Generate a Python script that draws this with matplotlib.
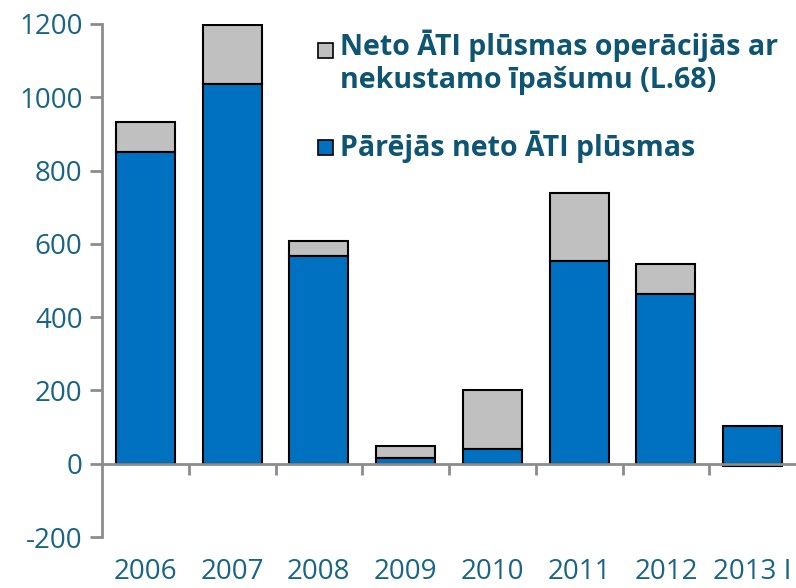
import numpy as np
import matplotlib
matplotlib.use('Agg')
from matplotlib import pyplot as plt
from matplotlib.patches import Rectangle

years = ['2006', '2007', '2008', '2009', '2010', '2011', '2012', '2013 I']
other_fdi = [850, 1036, 566, 16, 41, 552, 464, 104]
real_estate = [82, 160, 42, 33, 161, 186, 80, -6]

label_re = 'Neto ĀTI plūsmas operācijās ar\nnekustamo īpašumu (L.68)'
label_other = 'Pārējās neto ĀTI plūsmas'

blue = '#0070C0'
grey = '#C0C0C0'
txt = '#1A6585'
legtxt = '#0E5473'
axcol = '#8C8C8C'

plt.rcParams['font.family'] = ['Open Sans', 'DejaVu Sans']
plt.rcParams['axes.unicode_minus'] = False

fig = plt.figure(figsize=(7.96, 5.88), dpi=100)
ax = fig.add_axes([102/796, 1-537/588, 1-102/796, (537-24)/588])

x = np.arange(len(years))
re = np.array(real_estate)
oth = np.array(other_fdi)
# positive real estate part stacks on top, negative goes below zero
re_bottom = np.where(re >= 0, oth, 0)
ax.bar(x, oth, width=0.68, color=blue, edgecolor='black', linewidth=1.5, zorder=3)
ax.bar(x, re, bottom=re_bottom, width=0.68, color=grey, edgecolor='black', linewidth=1.5, zorder=2)

ax.set_xlim(-0.5, len(years) - 0.5)
ax.set_ylim(-200, 1200)
ax.set_yticks(np.arange(-200, 1201, 200))
ax.tick_params(axis='y', direction='out', length=9, width=2, color=axcol,
               labelsize=20, labelcolor=txt, pad=5)

ax.spines['top'].set_visible(False)
ax.spines['right'].set_visible(False)
ax.spines['left'].set_color(axcol)
ax.spines['left'].set_linewidth(2)
ax.spines['bottom'].set_position(('data', 0))
ax.spines['bottom'].set_color(axcol)
ax.spines['bottom'].set_linewidth(2)
ax.spines['bottom'].set_zorder(4)

ax.set_xticks(x)
ax.set_xticklabels(years)
ax.set_xticks(x[:-1] + 0.5, minor=True)
ax.tick_params(axis='x', which='major', length=0, labelsize=20, labelcolor=txt, pad=68)
ax.tick_params(axis='x', which='minor', direction='out', length=8, width=2, color=axcol)

# legend drawn by hand to match the layout
sq = 15 / 796
for ypix, lab, col in [(50, label_re, grey), (147, label_other, blue)]:
    fig.patches.append(Rectangle((318/796, 1-(ypix+8)/588), sq, sq*796/588,
                                 transform=fig.transFigure, facecolor=col,
                                 edgecolor='black', linewidth=1.2))
fig.text(340/796, 1-30/588, label_re, ha='left', va='top', fontsize=20.5,
         fontweight='bold', color=legtxt, linespacing=1.15)
fig.text(340/796, 1-147/588, label_other, ha='left', va='center', fontsize=20.5,
         fontweight='bold', color=legtxt)

fig.savefig('out.png', dpi=100)
